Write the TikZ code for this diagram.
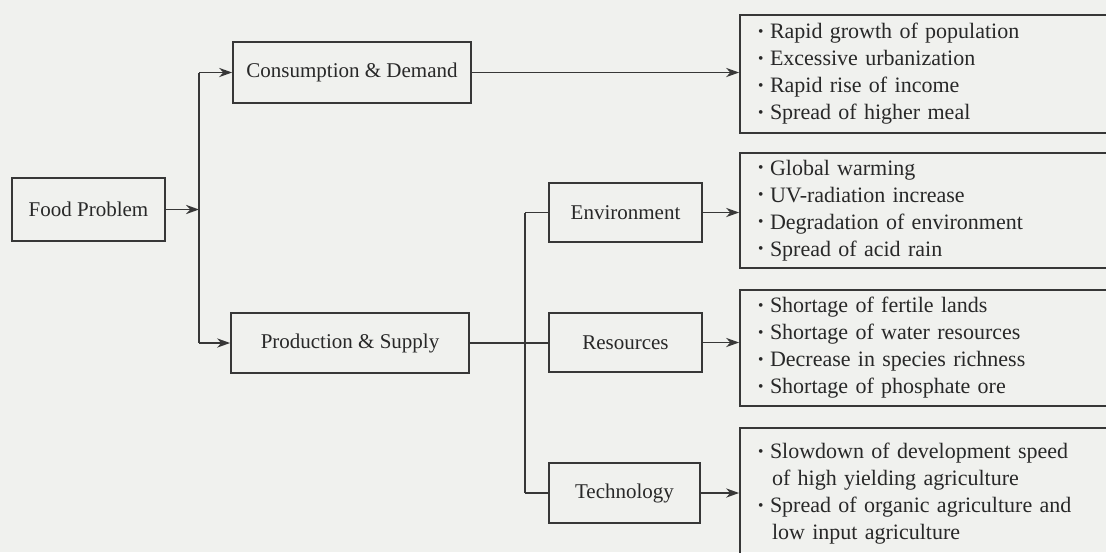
\documentclass[tikz,border=0pt]{standalone}
\usepackage{graphicx}
\usepackage{fontspec}
\setmainfont{Liberation Serif}
\usetikzlibrary{arrows.meta}
\definecolor{bg}{RGB}{240,241,238}
\definecolor{ln}{RGB}{55,55,55}
\definecolor{tx}{RGB}{40,40,40}
\newcommand{\bul}{\makebox[6pt][l]{\raisebox{0.25ex}{\scalebox{0.7}{\textbullet}}}}
\begin{document}
\begin{tikzpicture}[x=0.5pt,y=-0.5pt,
  box/.style={draw=ln, line width=0.9pt, rectangle, inner sep=0pt, text=tx,
    font=\fontsize{10.5}{12}\selectfont},
  list/.style={draw=ln, line width=0.9pt, rectangle, inner xsep=9pt, inner ysep=0pt,
    minimum width=215pt, text width=197pt, align=left, text=tx,
    font=\fontsize{11}{13.5}\selectfont},
  conn/.style={draw=ln, line width=0.9pt},
  arr/.style={conn, -{Stealth[length=6.5pt,width=4.6pt]}}]
\clip (0,0) rectangle (1106,552);
\fill[bg] (0,0) rectangle (1106,552);
% main boxes
\node[box, minimum width=76.5pt, minimum height=31.5pt] (fp) at (88.5,209.5) {Food Problem};
\node[box, minimum width=119pt, minimum height=30.5pt] (cd) at (352,72.5) {Consumption \& Demand};
\node[box, minimum width=119pt, minimum height=30pt] (ps) at (350,343) {Production \& Supply};
\node[box, minimum width=76.5pt, minimum height=29.5pt] (env) at (625.5,212.5) {Environment};
\node[box, minimum width=76.5pt, minimum height=29.5pt] (res) at (625.5,342.5) {Resources};
\node[box, minimum width=75.5pt, minimum height=30pt] (tech) at (624.5,493) {Technology};
% list boxes
\node[list, minimum height=59pt] (b1) at (955,74) {\bul Rapid growth of population\\ \bul Excessive urbanization\\ \bul Rapid rise of income\\ \bul Spread of higher meal};
\node[list, minimum height=57.5pt] (b2) at (955,210.5) {\bul Global warming\\ \bul UV-radiation increase\\ \bul Degradation of environment\\ \bul Spread of acid rain};
\node[list, minimum height=58pt] (b3) at (955,348) {\bul Shortage of fertile lands\\ \bul Shortage of water resources\\ \bul Decrease in species richness\\ \bul Shortage of phosphate ore};
\node[list, minimum height=66pt] (b4) at (955,494) {\bul Slowdown of development speed\\ \hspace*{7pt}of high yielding agriculture\\ \bul Spread of organic agriculture and\\ \hspace*{7pt}low input agriculture};
% junctions
\coordinate (t1) at (199,0);
\coordinate (t2) at (525,0);
% first level
\draw[arr] (fp.east) -- (fp.east -| t1);
\draw[conn] (t1 |- cd.west) -- (t1 |- ps.west);
\draw[arr] (t1 |- cd.west) -- (cd.west);
\draw[arr] (t1 |- ps.west) -- (ps.west);
% second level
\draw[conn] (ps.east) -- (ps.east -| res.west);
\draw[conn] (t2 |- env.west) -- (t2 |- tech.west);
\draw[conn] (t2 |- env.west) -- (env.west);
\draw[conn] (t2 |- tech.west) -- (tech.west);
% to lists
\draw[arr] (cd.east) -- (cd.east -| b1.west);
\draw[arr] (env.east) -- (env.east -| b2.west);
\draw[arr] (res.east) -- (res.east -| b3.west);
\draw[arr] (tech.east) -- (tech.east -| b4.west);
\end{tikzpicture}
\end{document}
